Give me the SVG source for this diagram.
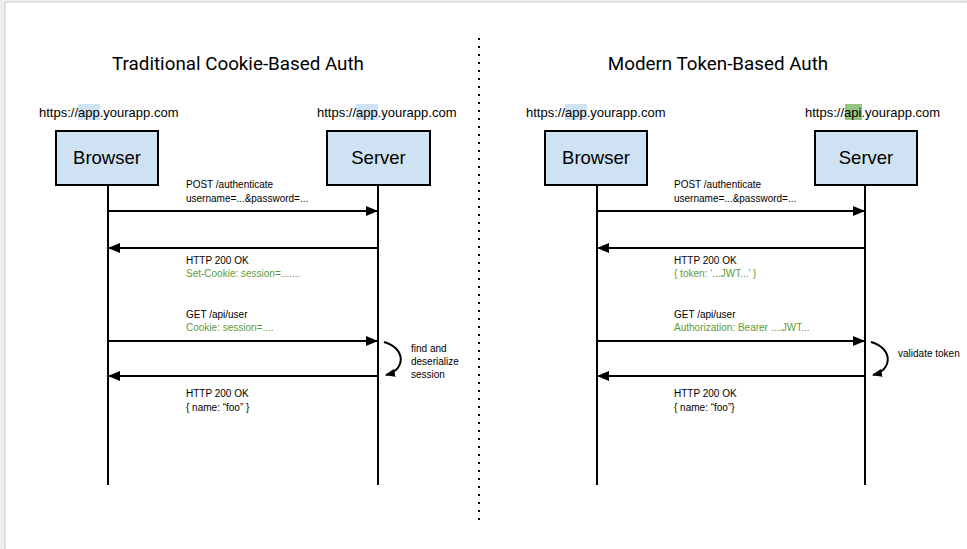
<svg xmlns="http://www.w3.org/2000/svg" width="967" height="549" viewBox="0 0 967 549">
<defs>
<style>
.title{font-family:Roboto,"Liberation Sans",sans-serif;font-size:18.8px;fill:#000;text-anchor:middle}
.url{font-family:"Liberation Sans",Arial,sans-serif;font-size:13px;fill:#000}
.box{fill:#cfe2f3;stroke:#000;stroke-width:2}
.boxt{font-family:"Liberation Sans",Arial,sans-serif;font-size:18.5px;fill:#000;text-anchor:middle}
.life{stroke:#000;stroke-width:2;fill:none}
.msg{stroke:#000;stroke-width:2;fill:none}
.lbl{font-family:"Liberation Sans",Arial,sans-serif;font-size:10px;fill:#000}
.g{fill:#5f9a3a}
</style>
<marker id="ah" markerWidth="12" markerHeight="10" refX="11" refY="5" orient="auto" markerUnits="userSpaceOnUse">
<path d="M0,0 L12,5 L0,10 Z" fill="#000"/>
</marker>
<marker id="ahs" markerWidth="10" markerHeight="8" refX="9" refY="4" orient="auto" markerUnits="userSpaceOnUse">
<path d="M0,0 L10,4 L0,8 Z" fill="#000"/>
</marker>
</defs>
<rect x="0" y="0" width="967" height="549" fill="#eeeeee"/>
<rect x="5" y="2" width="962" height="547" fill="#ffffff" stroke="#cccccc" stroke-width="1"/>
<rect x="6" y="3" width="961" height="546" fill="#ffffff"/>

<line x1="479" y1="38" x2="479" y2="524" stroke="#000" stroke-width="2" stroke-dasharray="2 6"/>

<g id="left-title"><text class="title" x="238" y="70">Traditional Cookie-Based Auth</text></g>
<g id="right-title"><text class="title" x="718" y="70">Modern Token-Based Auth</text></g>

<g id="left-browser">
<rect x="78" y="104" width="22" height="16" fill="#cfe2f3"/>
<text class="url" x="39" y="117">https://app.yourapp.com</text>
<rect class="box" x="56" y="131" width="102" height="54"/>
<text class="boxt" x="107" y="164">Browser</text>
<line class="life" x1="108" y1="185" x2="108" y2="485"/>
</g>
<g id="left-server">
<rect x="356" y="104" width="22" height="16" fill="#cfe2f3"/>
<text class="url" x="317" y="117">https://app.yourapp.com</text>
<rect class="box" x="327" y="131" width="103" height="54"/>
<text class="boxt" x="378.5" y="164">Server</text>
<line class="life" x1="378" y1="185" x2="378" y2="485"/>
</g>
<g id="right-browser">
<rect x="565" y="104" width="22" height="16" fill="#cfe2f3"/>
<text class="url" x="526" y="117">https://app.yourapp.com</text>
<rect class="box" x="545" y="131" width="102" height="54"/>
<text class="boxt" x="596" y="164">Browser</text>
<line class="life" x1="597" y1="185" x2="597" y2="485"/>
</g>
<g id="right-server">
<rect x="845" y="104" width="17" height="16" fill="#93c47d"/>
<text class="url" x="805" y="117">https://api.yourapp.com</text>
<rect class="box" x="815" y="131" width="102" height="54"/>
<text class="boxt" x="866" y="164">Server</text>
<line class="life" x1="865" y1="185" x2="865" y2="485"/>
</g>

<g id="connectors">
<line class="msg" x1="109" y1="211" x2="377" y2="211" marker-end="url(#ah)"/>
<line class="msg" x1="377" y1="248" x2="109" y2="248" marker-end="url(#ah)"/>
<line class="msg" x1="109" y1="341" x2="377" y2="341" marker-end="url(#ah)"/>
<line class="msg" x1="377" y1="376" x2="109" y2="376" marker-end="url(#ah)"/>
<path class="msg" d="M384,342 C406,348 406,370 386,375" marker-end="url(#ahs)"/>

<line class="msg" x1="598" y1="211" x2="864" y2="211" marker-end="url(#ah)"/>
<line class="msg" x1="864" y1="248" x2="598" y2="248" marker-end="url(#ah)"/>
<line class="msg" x1="598" y1="341" x2="864" y2="341" marker-end="url(#ah)"/>
<line class="msg" x1="864" y1="376" x2="598" y2="376" marker-end="url(#ah)"/>
<path class="msg" d="M871,342 C893,348 893,370 873,375" marker-end="url(#ahs)"/>
</g>

<g id="left-labels">
<text class="lbl" x="186" y="188">POST /authenticate</text>
<text class="lbl" x="186" y="202">username=...&amp;password=...</text>
<text class="lbl" x="186" y="264">HTTP 200 OK</text>
<text class="lbl g" x="186" y="277">Set-Cookie: session=.......</text>
<text class="lbl" x="186" y="318">GET /api/user</text>
<text class="lbl g" x="186" y="331">Cookie: session=....</text>
<text class="lbl" x="186" y="397">HTTP 200 OK</text>
<text class="lbl" x="186" y="411">{  name: “foo” }</text>
<text class="lbl" x="411" y="352">find and</text>
<text class="lbl" x="411" y="365">deserialize</text>
<text class="lbl" x="411" y="378">session</text>
</g>
<g id="right-labels">
<text class="lbl" x="674" y="188">POST /authenticate</text>
<text class="lbl" x="674" y="202">username=...&amp;password=...</text>
<text class="lbl" x="674" y="264">HTTP 200 OK</text>
<text class="lbl g" x="674" y="277">{ token: ‘...JWT...’ }</text>
<text class="lbl" x="674" y="318">GET /api/user</text>
<text class="lbl g" x="674" y="331">Authorization: Bearer ....JWT...</text>
<text class="lbl" x="674" y="397">HTTP 200 OK</text>
<text class="lbl" x="674" y="411">{ name: “foo”}</text>
<text class="lbl" x="898" y="357">validate token</text>
</g>
</svg>
